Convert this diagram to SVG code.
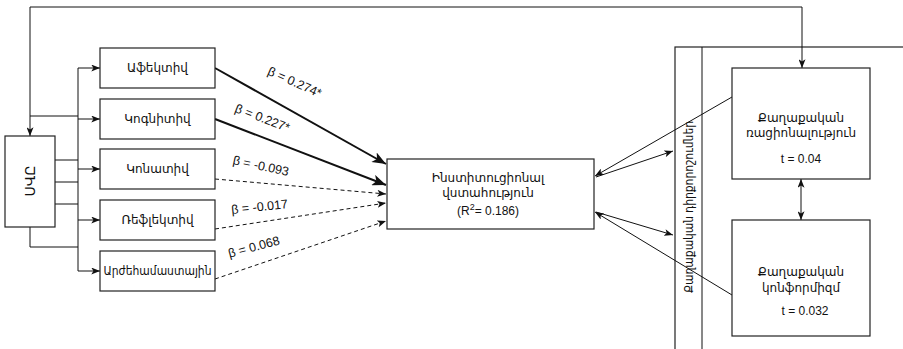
<svg xmlns="http://www.w3.org/2000/svg" width="903" height="349" viewBox="0 0 903 349">
<style>
text{font-family:"Liberation Sans","DejaVu Sans",Arial,sans-serif;font-size:12px;fill:#111}
.box{fill:#fff;stroke:#222;stroke-width:1.2}
.ln{fill:none;stroke:#111;stroke-width:1}
.thick{fill:none;stroke:#111;stroke-width:2}
.dash{fill:none;stroke:#111;stroke-width:1;stroke-dasharray:4 3}
</style>
<defs>
<marker id="a" viewBox="0 0 10 8" refX="10" refY="4" markerWidth="9" markerHeight="7" orient="auto-start-reverse" markerUnits="userSpaceOnUse"><path d="M0,0 L10,4 L0,8 L2.5,4 z" fill="#111"/></marker>
<marker id="t" viewBox="0 0 10 8" refX="10" refY="4" markerWidth="14" markerHeight="11" orient="auto" markerUnits="userSpaceOnUse"><path d="M0,0 L10,4 L0,8 L2.5,4 z" fill="#111"/></marker>
</defs>

<g id="container">
<rect x="675" y="47" width="240" height="320" class="box"/>
<line x1="702" y1="47" x2="702" y2="349" class="ln"/>
<text transform="translate(689,207) rotate(-90)" text-anchor="middle" dominant-baseline="central" textLength="172" lengthAdjust="spacingAndGlyphs" style="font-size:11.5px">Քաղաքական դիրքորոշումներ</text>
</g>

<g id="connectors">
<path d="M802,68 V7 H30 V136" class="ln" marker-start="url(#a)" marker-end="url(#a)"/>
<path d="M30,116 H78" class="ln"/>
<path d="M55,160 H78 M55,182 H78 M55,204 H78" class="ln"/>
<path d="M30,227 V247 H78" class="ln"/>
<path d="M78,68 V271" class="ln"/>
<path d="M78,68 H100" class="ln" marker-end="url(#a)"/>
<path d="M78,119 H100" class="ln" marker-end="url(#a)"/>
<path d="M78,169 H100" class="ln" marker-end="url(#a)"/>
<path d="M78,220 H100" class="ln" marker-end="url(#a)"/>
<path d="M78,271 H100" class="ln" marker-end="url(#a)"/>
<path d="M215,68 L386,164" class="thick" marker-end="url(#t)"/>
<path d="M215,119 L386,185" class="thick" marker-end="url(#t)"/>
<path d="M215,179 L386,194" class="dash" marker-end="url(#a)"/>
<path d="M215,229 L386,203" class="dash" marker-end="url(#a)"/>
<path d="M215,279 L386,221" class="dash" marker-end="url(#a)"/>
<path d="M732,97 L595,176" class="ln" marker-end="url(#a)"/>
<path d="M596,177 L673,151" class="ln" marker-end="url(#a)"/>
<path d="M732,295 L595,212" class="ln" marker-end="url(#a)"/>
<path d="M596,212 L673,235" class="ln" marker-end="url(#a)"/>
<path d="M801,179 V220" class="ln" marker-start="url(#a)" marker-end="url(#a)"/>
<text transform="translate(293,86) rotate(24)" text-anchor="middle" style="font-size:12.5px">β = 0.274*</text>
<text transform="translate(261,122) rotate(21)" text-anchor="middle" style="font-size:12.5px">β = 0.227*</text>
<text transform="translate(260,170) rotate(12)" text-anchor="middle" style="font-size:12.5px">β = -0.093</text>
<text transform="translate(260,211) rotate(-6)" text-anchor="middle" style="font-size:12.5px">β = -0.017</text>
<text transform="translate(255,251) rotate(-15)" text-anchor="middle" style="font-size:12.5px">β = 0.068</text>
</g>

<g id="svy">
<rect x="5" y="136" width="50" height="91" class="box"/>
<text transform="translate(30,181) rotate(-90)" text-anchor="middle" dominant-baseline="central" style="font-size:14px">ՍՎԸ</text>
</g>
<g id="afektiv">
<rect x="100" y="48" width="115" height="40" class="box"/>
<text x="157.5" y="72" text-anchor="middle">Աֆեկտիվ</text>
</g>
<g id="kognitiv">
<rect x="100" y="99" width="115" height="40" class="box"/>
<text x="157.5" y="123" text-anchor="middle">Կոգնիտիվ</text>
</g>
<g id="konativ">
<rect x="100" y="149" width="115" height="40" class="box"/>
<text x="157.5" y="173" text-anchor="middle">Կոնատիվ</text>
</g>
<g id="reflektiv">
<rect x="100" y="200" width="115" height="40" class="box"/>
<text x="157.5" y="224" text-anchor="middle">Ռեֆլեկտիվ</text>
</g>
<g id="arzheh">
<rect x="100" y="251" width="115" height="40" class="box"/>
<text x="157.5" y="275" text-anchor="middle" textLength="108" lengthAdjust="spacingAndGlyphs">Արժեհամաստային</text>
</g>
<g id="trust">
<rect x="387" y="159" width="207" height="70" class="box"/>
<text x="488" y="182" text-anchor="middle">Ինստիտուցիոնալ</text>
<text x="488" y="197" text-anchor="middle">վստահություն</text>
<text x="488" y="215" text-anchor="middle">(R<tspan dy="-5" style="font-size:9px">2</tspan><tspan dy="5">= 0.186)</tspan></text>
</g>
<g id="ratsional">
<rect x="732" y="68" width="138" height="111" class="box"/>
<text x="801" y="122" text-anchor="middle">Քաղաքական</text>
<text x="801" y="137" text-anchor="middle">ռացիոնալություն</text>
<text x="801" y="163" text-anchor="middle">t = 0.04</text>
</g>
<g id="konformizm">
<rect x="732" y="220" width="138" height="116" class="box"/>
<text x="801" y="276" text-anchor="middle">Քաղաքական</text>
<text x="801" y="292" text-anchor="middle">կոնֆորմիզմ</text>
<text x="805" y="315" text-anchor="middle">t = 0.032</text>
</g>
</svg>
